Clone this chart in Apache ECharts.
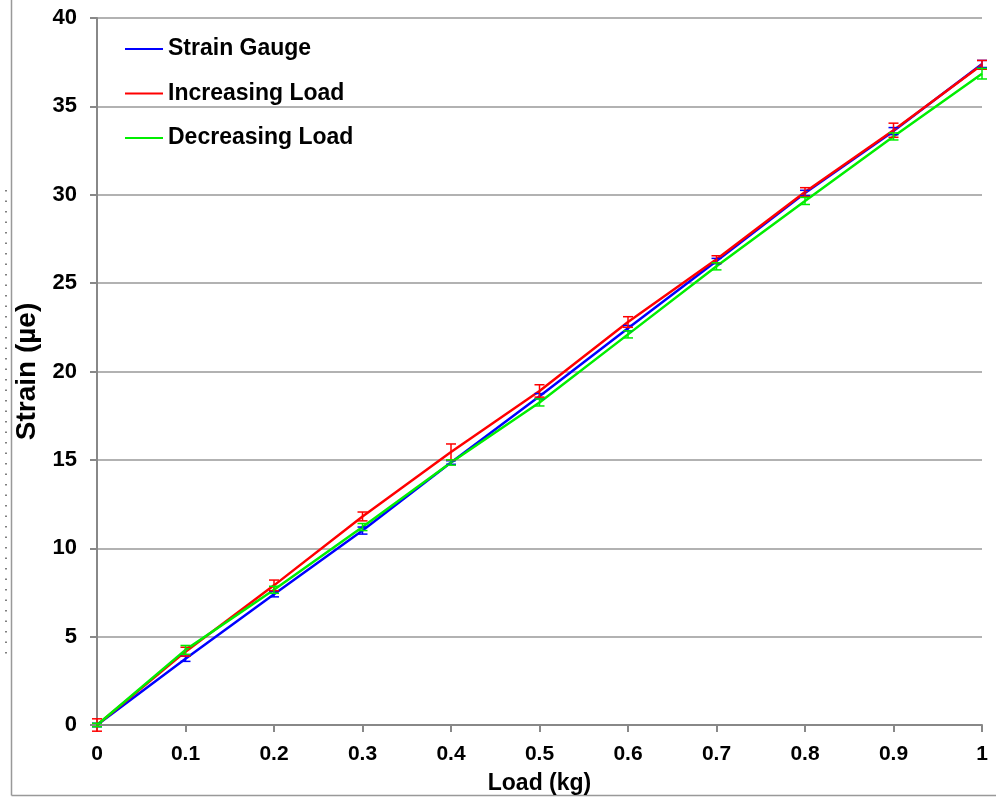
<!DOCTYPE html>
<html>
<head>
<meta charset="utf-8">
<script src="https://cdn.jsdelivr.net/npm/echarts@6/dist/echarts.min.js"></script>
<style>
  html, body { margin: 0; padding: 0; background: #fff; }
  #main { width: 996px; height: 798px; }
</style>
</head>
<body>
<div id="main"></div>
<script>
// load in kg
var loads = [0, 0.1, 0.2, 0.3, 0.4, 0.5, 0.6, 0.7, 0.8, 0.9, 1];

// strain readings
var gauge      = [0, 3.75, 7.4, 11.0, 14.85, 18.6, 22.45, 26.25, 30.1, 33.6, 37.4];
var increasing = [0, 4.15, 7.9, 11.8, 15.45, 18.9, 22.8, 26.35, 30.15, 33.65, 37.35];
var decreasing = [0, 4.25, 7.65, 11.2, 14.85, 18.25, 22.1, 25.95, 29.65, 33.3, 36.85];

// error bar half widths
var gaugeErr      = [0.1, 0.15, 0.15, 0.2, 0.1, 0.15, 0.15, 0.15, 0.15, 0.2, 0.2];
var increasingErr = [0.35, 0.25, 0.3, 0.25, 0.45, 0.35, 0.3, 0.2, 0.25, 0.4, 0.25];
var decreasingErr = [0.1, 0.25, 0.2, 0.2, 0.15, 0.2, 0.2, 0.2, 0.2, 0.2, 0.3];

function pairs(ys) {
    return loads.map(function (x, i) { return [x, ys[i]]; });
}

function errorSeries(name, ys, errs, color) {
    return {
        name: name + ' err',
        type: 'custom',
        z: 3,
        data: loads.map(function (x, i) { return [x, ys[i] - errs[i], ys[i] + errs[i]]; }),
        renderItem: function (params, api) {
            var lo = api.coord([api.value(0), api.value(1)]);
            var hi = api.coord([api.value(0), api.value(2)]);
            var w = 5;
            var style = { stroke: color, lineWidth: 1.5 };
            return {
                type: 'group',
                children: [
                    { type: 'line', shape: { x1: lo[0], y1: lo[1], x2: hi[0], y2: hi[1] }, style: style },
                    { type: 'line', shape: { x1: lo[0] - w, y1: lo[1], x2: lo[0] + w, y2: lo[1] }, style: style },
                    { type: 'line', shape: { x1: hi[0] - w, y1: hi[1], x2: hi[0] + w, y2: hi[1] }, style: style }
                ]
            };
        }
    };
}

function lineSeries(name, ys, color) {
    return {
        name: name,
        type: 'line',
        data: pairs(ys),
        showSymbol: false,
        z: 2,
        lineStyle: { color: color, width: 2.5 },
        itemStyle: { color: color }
    };
}

var font = 'Liberation Sans, Arial, sans-serif';
var chart = echarts.init(document.getElementById('main'));
chart.setOption({
    animation: false,
    backgroundColor: '#fff',
    textStyle: { fontFamily: font },
    grid: { left: 97, right: 14, top: 18, bottom: 73, outerBoundsMode: 'none' },
    legend: {
        left: 125,
        top: 37,
        padding: 0,
        orient: 'vertical',
        itemGap: 20.5,
        itemWidth: 38,
        itemHeight: 2,
        icon: 'rect',
        data: ['Strain Gauge', 'Increasing Load', 'Decreasing Load'],
        textStyle: { fontSize: 23, lineHeight: 24, fontWeight: 'bold', color: '#000', fontFamily: font }
    },
    xAxis: {
        type: 'value',
        min: 0,
        max: 1,
        interval: 0.1,
        name: 'Load (kg)',
        nameLocation: 'middle',
        nameGap: 47,
        nameTextStyle: { fontSize: 23, fontWeight: 'bold', color: '#000' },
        axisLine: { lineStyle: { color: '#888', width: 2 } },
        axisTick: { show: true, length: 7, lineStyle: { color: '#888', width: 2 } },
        axisLabel: {
            fontSize: 21, fontWeight: 'bold', color: '#000', margin: 19,
            formatter: function (v) { return String(Math.round(v * 10) / 10); }
        },
        splitLine: { show: false }
    },
    yAxis: {
        type: 'value',
        min: 0,
        max: 40,
        interval: 5,
        name: 'Strain (\u00b5e)',
        nameLocation: 'middle',
        nameGap: 47,
        nameTextStyle: { fontSize: 28, fontWeight: 'bold', color: '#000' },
        axisLine: { show: true, lineStyle: { color: '#888', width: 2 } },
        axisTick: { show: true, length: 7, lineStyle: { color: '#888', width: 2 } },
        axisLabel: { fontSize: 22, fontWeight: 'bold', color: '#000', margin: 20 },
        splitLine: { lineStyle: { color: '#999', width: 1.5 } }
    },
    graphic: [
        { type: 'line', shape: { x1: 11.5, y1: 0, x2: 11.5, y2: 795.5 }, style: { stroke: '#999', lineWidth: 1.5 } },
        { type: 'line', shape: { x1: 11.5, y1: 795.5, x2: 996, y2: 795.5 }, style: { stroke: '#999', lineWidth: 1.5 } },
        { type: 'line', shape: { x1: 6, y1: 190, x2: 6, y2: 660 }, style: { stroke: '#555', lineWidth: 1.5, lineDash: [1.5, 9] } }
    ],
    series: [
        lineSeries('Strain Gauge', gauge, '#0000ff'),
        lineSeries('Increasing Load', increasing, '#ff0000'),
        lineSeries('Decreasing Load', decreasing, '#00ee00'),
        errorSeries('Strain Gauge', gauge, gaugeErr, '#0000ff'),
        errorSeries('Increasing Load', increasing, increasingErr, '#ff0000'),
        errorSeries('Decreasing Load', decreasing, decreasingErr, '#00ee00')
    ]
});
</script>
</body>
</html>
